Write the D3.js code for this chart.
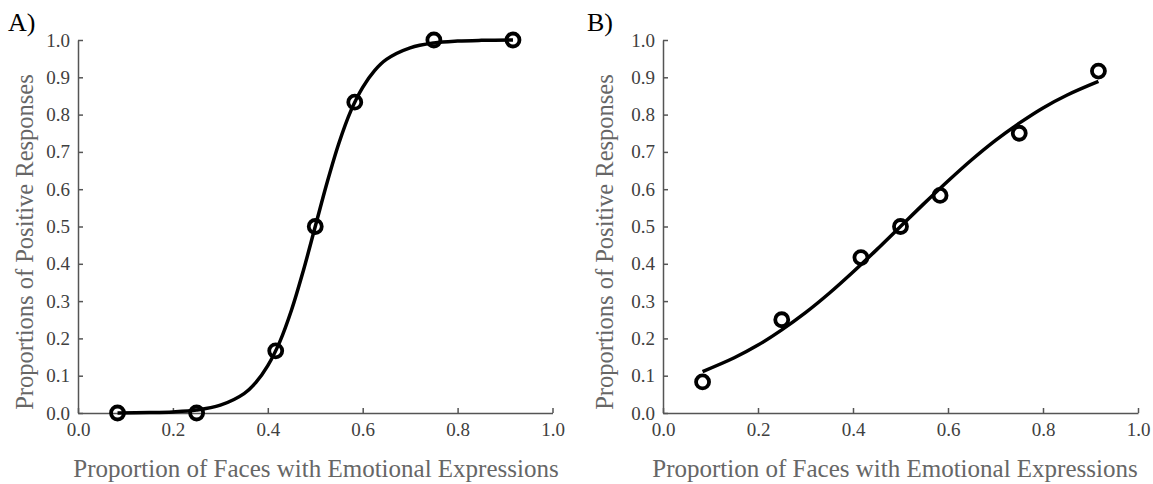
<!DOCTYPE html>
<html><head><meta charset="utf-8">
<script src="https://cdn.jsdelivr.net/npm/d3@7"></script>
<style>body{margin:0;background:#fff}</style>
</head><body>
<svg id="c" width="1153" height="484"></svg>
<script>
// Stimulus proportions (x) and observed proportions of positive responses
const pointX = [0.0833, 0.25, 0.4167, 0.5, 0.5833, 0.75, 0.9167];
const pointYA = [0.0, 0.0, 0.1667, 0.5, 0.8333, 1.0, 1.0];
const pointYB = [0.0833, 0.25, 0.4167, 0.5, 0.5833, 0.75, 0.9167];
// Fitted curves
const curveXA = [0.0833, 0.15, 0.2, 0.25, 0.3, 0.35, 0.375, 0.4, 0.425, 0.45, 0.475, 0.5, 0.525, 0.55, 0.575, 0.6, 0.625, 0.65, 0.7, 0.75, 0.8, 0.85, 0.9167];
const curveYA = [0.0003, 0.0012, 0.003, 0.008, 0.021, 0.052, 0.082, 0.127, 0.19, 0.276, 0.382, 0.5, 0.618, 0.724, 0.81, 0.873, 0.918, 0.948, 0.979, 0.992, 0.997, 0.999, 1.0];
const curveXB = [0.0833, 0.15, 0.2, 0.25, 0.3, 0.35, 0.4, 0.45, 0.5, 0.55, 0.6, 0.65, 0.7, 0.75, 0.8, 0.85, 0.9167];
const curveYB = [0.111, 0.148, 0.182, 0.223, 0.269, 0.321, 0.378, 0.438, 0.5, 0.562, 0.622, 0.679, 0.731, 0.777, 0.818, 0.852, 0.889];
const ticks = [0, 0.1, 0.2, 0.3, 0.4, 0.5, 0.6, 0.7, 0.8, 0.9, 1.0];
const xTicks = [0, 0.2, 0.4, 0.6, 0.8, 1.0];
const panelLabels = ["A)", "B)"];
const xTitle = "Proportion of Faces with Emotional Expressions";
const yTitle = "Proportions of Positive Responses";

const svg = d3.select("#c");
const font = "'Liberation Serif','Times New Roman',serif";
const panels = [
  {x0: 78, x1: 552.5, py: pointYA, cx: curveXA, cy: curveYA, label: panelLabels[0], lx: 8, ytx: 33, xtc: 316},
  {x0: 663, x1: 1138, py: pointYB, cx: curveXB, cy: curveYB, label: panelLabels[1], lx: 587, ytx: 613, xtc: 895}
];
const yTop = 40, yBot = 413;

panels.forEach(p => {
  const x = d3.scaleLinear().domain([0, 1]).range([p.x0, p.x1]);
  const y = d3.scaleLinear().domain([0, 1]).range([yBot, yTop]);
  const g = svg.append("g");

  const xa = g.append("g").attr("transform", `translate(0,${yBot})`)
    .call(d3.axisBottom(x).tickValues(xTicks).tickFormat(d3.format(".1f")).tickSizeInner(-5).tickSizeOuter(0).tickPadding(10));
  const ya = g.append("g").attr("transform", `translate(${p.x0},0)`)
    .call(d3.axisLeft(y).tickValues(ticks).tickFormat(d3.format(".1f")).tickSizeInner(-5).tickSizeOuter(0).tickPadding(8));
  [xa, ya].forEach(a => {
    a.select(".domain").attr("stroke", "#555").attr("stroke-width", 1.5);
    a.selectAll(".tick line").attr("stroke", "#555").attr("stroke-width", 1.5);
    a.selectAll(".tick text").attr("fill", "#404040").style("font-family", font).style("font-size", "19px");
  });

  const line = d3.line().x(d => x(d[0])).y(d => y(d[1])).curve(d3.curveCatmullRom);
  g.append("path").datum(p.cx.map((v, i) => [v, p.cy[i]]))
    .attr("d", line).attr("fill", "none").attr("stroke", "#000").attr("stroke-width", 3.5);

  g.selectAll("circle.pt").data(pointX.map((v, i) => [v, p.py[i]])).enter().append("circle")
    .attr("cx", d => x(d[0])).attr("cy", d => y(d[1])).attr("r", 6.5)
    .attr("fill", "none").attr("stroke", "#000").attr("stroke-width", 3.8);

  g.append("text").attr("x", p.lx).attr("y", 31).text(p.label)
    .style("font-family", font).style("font-size", "26px").attr("fill", "#000");

  g.append("text").attr("transform", `translate(${p.ytx},${242}) rotate(-90)`)
    .attr("text-anchor", "middle").text(yTitle)
    .style("font-family", font).style("font-size", "24.5px").attr("fill", "#666");

  g.append("text").attr("x", p.xtc).attr("y", 477).attr("text-anchor", "middle").text(xTitle)
    .style("font-family", font).style("font-size", "25px").attr("fill", "#666");
});
</script>
</body></html>
